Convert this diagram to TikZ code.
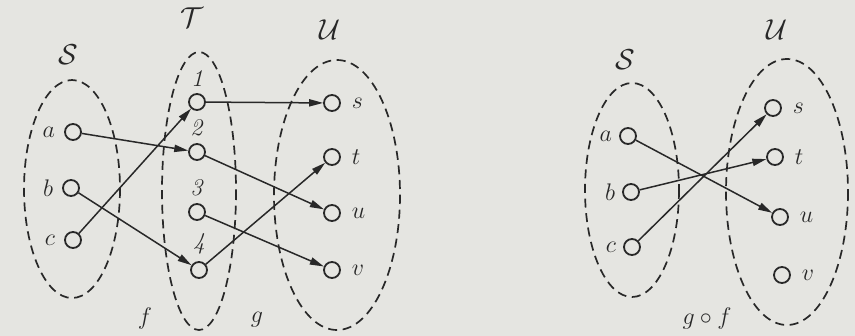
\documentclass[tikz,border=0pt]{standalone}
\usepackage{amsmath,amssymb}
\usepackage{tikz}
\usepackage{xcolor}
\usetikzlibrary{arrows.meta}
\definecolor{paper}{RGB}{229,229,225}
\definecolor{ink}{RGB}{40,40,40}

\begin{document}
\begin{tikzpicture}[x=0.5pt,y=-0.5pt,every node/.style={font=\large,text=ink},
  elem/.style={circle,draw=ink,line width=0.9pt,minimum size=8pt,inner sep=0pt},
  setline/.style={draw=ink,dash pattern=on 4.5pt off 2.8pt,line width=0.85pt},
  setname/.style={font=\Large},
  mapname/.style={font=\large},
  mapto/.style={draw=ink,line width=0.75pt,-{Triangle[length=7pt,width=3.6pt]}}]
\fill[paper] (0,0) rectangle (855,336);
\useasboundingbox (0,0) rectangle (855,336);
% f and g
\draw[setline] (72,189) ellipse (48 and 109);
\draw[setline] (199,191) ellipse (37 and 139);
\draw[setline] (337,195) ellipse (63 and 135);
\node[setname] (nS) at (68,55) {$\mathcal{S}$};
\node[setname] (nT) at (192,18) {$\mathcal{T}$};
\node[setname] (nU) at (330,30) {$\mathcal{U}$};
\node[elem,label={[label distance=1pt]left:$a$}] (a) at (73,132) {};
\node[elem,label={[label distance=1pt]left:$b$}] (b) at (71,188) {};
\node[elem,label={[label distance=1pt]left:$c$}] (c) at (73,240) {};
\node[elem,label={[label distance=0pt]above:\textit{1}}] (t1) at (197,102) {};
\node[elem,label={[label distance=0pt]above:\textit{2}}] (t2) at (197,152) {};
\node[elem,label={[label distance=0pt]above:\textit{3}}] (t3) at (197,212) {};
\node[elem,label={[label distance=0pt]above:\textit{4}}] (t4) at (199,270) {};
\node[elem,label={[label distance=2pt]right:$s$}] (s) at (332,103) {};
\node[elem,label={[label distance=2pt]right:$t$}] (t) at (332,157) {};
\node[elem,label={[label distance=2pt]right:$u$}] (u) at (332,213) {};
\node[elem,label={[label distance=2pt]right:$v$}] (v) at (332,270) {};
\draw[mapto] (a) -- (t2);
\draw[mapto] (b) -- (t4);
\draw[mapto] (c) -- (t1);
\draw[mapto] (t1) -- (s);
\draw[mapto] (t2) -- (u);
\draw[mapto] (t3) -- (v);
\draw[mapto] (t4) -- (t);
\node[mapname] (nf) at (145,318) {$f$};
\node[mapname] (ng) at (257,320) {$g$};
% g o f
\draw[setline] (632,190) ellipse (47 and 107);
\draw[setline] (787,192) ellipse (61 and 133);
\node[setname] (mS) at (625,60) {$\mathcal{S}$};
\node[setname] (mU) at (777,30) {$\mathcal{U}$};
\node[elem,label={[label distance=0pt]left:$a$}] (ra) at (628,136) {};
\node[elem,label={[label distance=0pt]left:$b$}] (rb) at (631,192) {};
\node[elem,label={[label distance=0pt]left:$c$}] (rc) at (632,247) {};
\node[elem,label={[label distance=2pt]right:$s$}] (rs) at (773,108) {};
\node[elem,label={[label distance=2pt]right:$t$}] (rt) at (775,157) {};
\node[elem,label={[label distance=2pt]right:$u$}] (ru) at (780,217) {};
\node[elem,label={[label distance=2pt]right:$v$}] (rv) at (782,275) {};
\draw[mapto] (ra) -- (ru);
\draw[mapto] (rb) -- (rt);
\draw[mapto] (rc) -- (rs);
\node[mapname] (ngf) at (707,318) {$g\circ f$};
\end{tikzpicture}
\end{document}
